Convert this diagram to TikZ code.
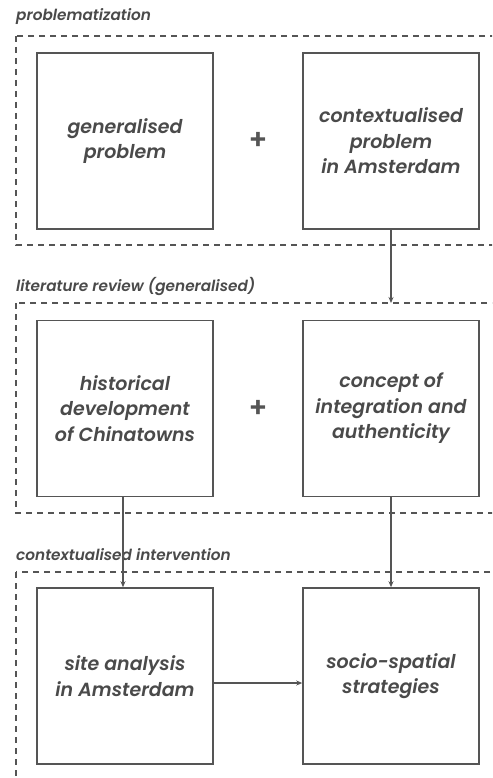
\documentclass[tikz,border=0pt]{standalone}
\usepackage{fontspec}
\setmainfont{Poppins}[UprightFont=* Medium, ItalicFont=* Medium Italic, BoldFont=* SemiBold, BoldItalicFont=* SemiBold Italic]
\usetikzlibrary{arrows.meta}
\definecolor{ink}{HTML}{555555}
\definecolor{txt}{HTML}{4A4A4A}
\tikzset{
  x=1pt, y=-1pt,
  stage/.style={draw=ink, line width=1.1pt, dash pattern=on 6pt off 5pt},
  stagelabel/.style={anchor=base west, inner sep=0pt, text=txt, font=\fontsize{15.3}{17}\selectfont\bfseries\itshape},
  card/.style={draw=ink, line width=1.6pt, minimum width=176pt, minimum height=176pt, inner sep=0pt,
    align=center, text=txt, font=\fontsize{19}{25.5}\selectfont\bfseries\itshape},
  plus/.style={text=ink, font=\fontsize{28}{28}\selectfont\bfseries, inner sep=0pt},
  flow/.style={draw=ink, line width=1.2pt, -{Stealth[length=6pt,width=5pt]}}
}
\begin{document}
\begin{tikzpicture}
\useasboundingbox (0,0) rectangle (492,778);
\begin{scope}
\clip (0,0) rectangle (492,778);
% dashed stage frames, open to the right / bottom
\draw[stage] (16,36) rectangle (520,245);
\draw[stage] (16,303) rectangle (520,513);
\draw[stage] (16,572) rectangle (520,800);
\end{scope}

\node[stagelabel] (l1) at (16,21) {problematization};
\node[stagelabel] (l2) at (16,291) {literature review (generalised)};
\node[stagelabel] (l3) at (16,560) {contextualised intervention};

\node[card] (a) at (125,141) {generalised\\problem};
\node[card] (b) at (391,141) {contextualised\\problem\\in Amsterdam};
\node[plus] (p1) at (258,141) {+};

\node[card] (c) at (125,408.5) {historical\\development\\of Chinatowns};
\node[card] (d) at (391,408.5) {concept of\\integration and\\authenticity};
\node[plus] (p2) at (258,408.5) {+};

\node[card] (e) at (125,676) {site analysis\\in Amsterdam};
\node[card] (f) at (391,676) {socio-spatial\\strategies};

\coordinate (t2) at (391,303);
\draw[flow] (b.south) -- (t2);
\draw[flow] (c.south -| 123,0) -- (e.north -| 123,0);
\draw[flow] (d.south) -- (f.north);
\draw[flow] (e.east |- 0,683) -- (f.west |- 0,683);
\end{tikzpicture}
\end{document}
